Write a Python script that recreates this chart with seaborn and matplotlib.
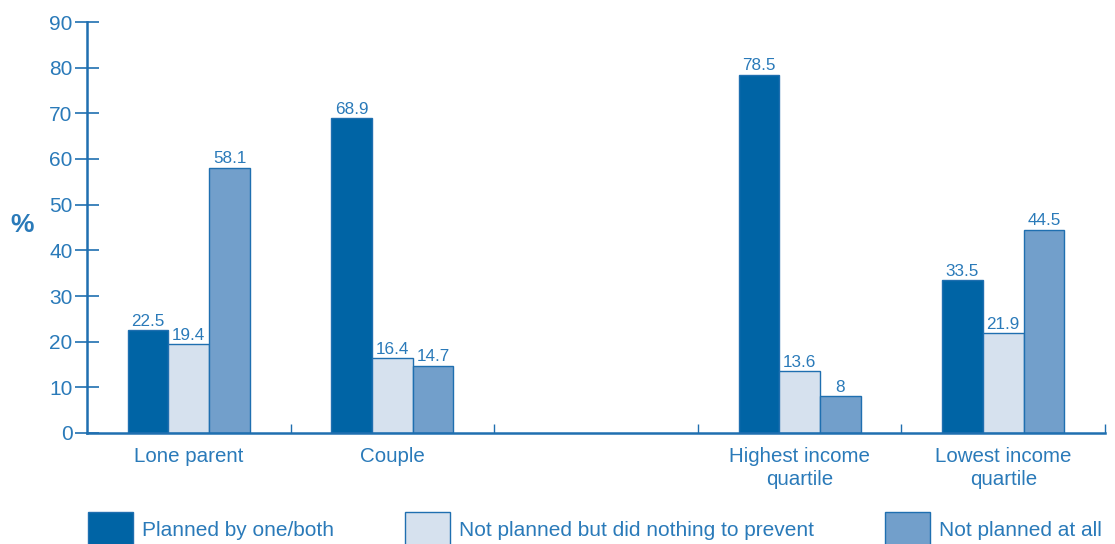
import seaborn as sns
import matplotlib.pyplot as plt
import pandas as pd

categories = ["Lone parent", "Couple", " ", "Highest income\nquartile", "Lowest income\nquartile"]
series = ["Planned by one/both", "Not planned but did nothing to prevent", "Not planned at all"]
planned = [22.5, 68.9, None, 78.5, 33.5]
not_prevented = [19.4, 16.4, None, 13.6, 21.9]
not_planned = [58.1, 14.7, None, 8, 44.5]

colors = ["#0064a5", "#d6e1ee", "#729fcb"]
text_blue = "#2a7ab9"
line_blue = "#1f6fb0"

rows = []
for name, vals in zip(series, [planned, not_prevented, not_planned]):
    for cat, v in zip(categories, vals):
        if v is not None:
            rows.append({"group": cat, "type": name, "value": v})
df = pd.DataFrame(rows)

sns.set_style("white")
plt.rcParams['font.family'] = ['Liberation Sans', 'DejaVu Sans']

fig = plt.figure(figsize=(11.15, 5.44), dpi=100)
ax = fig.add_axes([87 / 1115, 111 / 544, 1018 / 1115, 411 / 544])

sns.barplot(data=df, x="group", y="value", hue="type", order=categories, hue_order=series,
            palette=colors, saturation=1, width=0.6, edgecolor=line_blue, linewidth=1,
            ax=ax, legend=False)

for cont in ax.containers:
    ax.bar_label(cont, fmt="%g", padding=1, fontsize=12.3, color=text_blue)

ax.set_xlim(-0.5, 4.5)
ax.set_ylim(0, 90)
ax.set_yticks(range(0, 91, 10))
ax.set_xlabel("")
ax.set_ylabel("")
for s in ["top", "right"]:
    ax.spines[s].set_visible(False)
for s in ["left", "bottom"]:
    ax.spines[s].set_color(line_blue)
    ax.spines[s].set_linewidth(1.8)

ax.tick_params(axis="y", left=True, direction="inout", length=17, width=1.2, color=line_blue,
               labelsize=15, labelcolor=text_blue, pad=2)
ax.tick_params(axis="x", which="major", length=0, pad=10, labelsize=14.8, labelcolor=text_blue)
for lbl in ax.get_xticklabels():
    lbl.set_linespacing(1.3)
ax.set_xticks([0.5, 1.5, 2.5, 3.5, 4.5], minor=True)
ax.tick_params(axis="x", which="minor", bottom=True, direction="in", length=6.5, width=1,
               color=line_blue)

fig.text(22 / 1115, 1 - 225 / 544, "%", fontsize=19, fontweight="bold", color=text_blue,
         ha="center", va="center")

handles = [plt.Rectangle((0, 0), 1, 1, facecolor=c, edgecolor=line_blue, linewidth=1) for c in colors]
leg = fig.legend(handles, series, loc="center left", bbox_to_anchor=(88 / 1115, 15 / 544),
                 ncol=3, frameon=False, fontsize=15.0, handlelength=2.15, handleheight=2.15,
                 handletextpad=0.45, columnspacing=3.4, borderpad=0, borderaxespad=0)
for t in leg.get_texts():
    t.set_color(text_blue)

plt.savefig("out.png", dpi=100)
